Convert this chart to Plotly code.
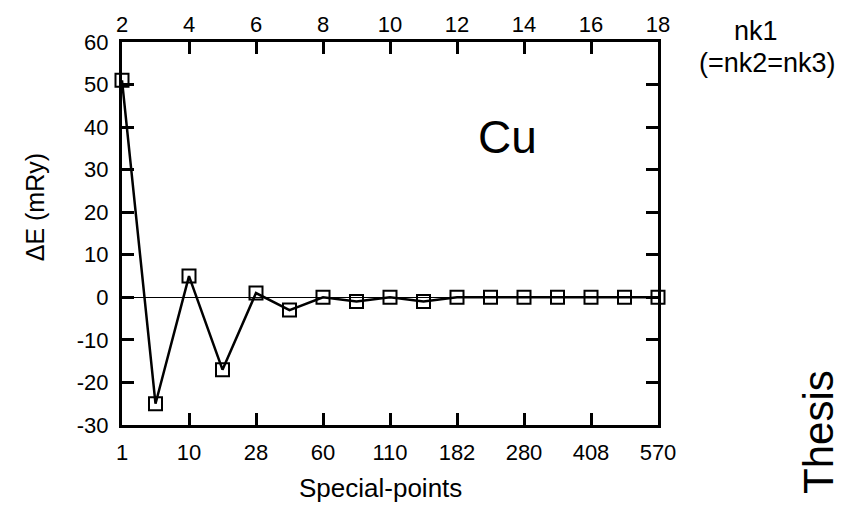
import plotly.graph_objects as go

nk = [2, 3, 4, 5, 6, 7, 8, 9, 10, 11, 12, 13, 14, 15, 16, 17, 18]
delta_e = [51, -25, 5, -17, 1, -3, 0, -1, 0, -1, 0, 0, 0, 0, 0, 0, 0]
top_ticks = [2, 4, 6, 8, 10, 12, 14, 16, 18]
special_points = ["1", "10", "28", "60", "110", "182", "280", "408", "570"]
y_ticks = [-30, -20, -10, 0, 10, 20, 30, 40, 50, 60]
y_labels = ["-30", "-20", "-10", "0", "10", "20", "30", "40", "50", "60"]

FONT = "Liberation Sans, Arial, Helvetica, sans-serif"
L, R, T, B = 122, 200, 38, 80
W, H = 858, 505
pw, ph = W - L - R, H - T - B

fig = go.Figure()
fig.add_trace(go.Scatter(
    x=nk, y=delta_e, mode="lines+markers",
    line=dict(color="black", width=2.5),
    marker=dict(symbol="square-open", size=13, color="black", line=dict(width=2, color="black")),
    cliponaxis=False, showlegend=False,
))
fig.add_trace(go.Scatter(x=[2, 18], y=[0, 0], xaxis="x2", mode="lines",
                         line=dict(width=0), hoverinfo="skip", showlegend=False))

axis_common = dict(showline=True, linecolor="black", linewidth=3, ticks="inside",
                   tickcolor="black", tickwidth=2.5, ticklen=12, showgrid=False,
                   tickfont=dict(family=FONT, size=22, color="black"))

def px(x, y):
    return (x - L) / pw, 1 - (y - T) / ph

ann = []
for text, x, y, size, angle in [
    ("Cu", 507, 134, 46, 0),
    ("nk1", 756, 27, 27, 0),
    ("(=nk2=nk3)", 767, 59, 27, 0),
    ("Thesis", 819, 432, 42, -90),
    ("Special-points", 380, 489, 26, 0),
    ("ΔE (mRy)", 35, 205, 25, -90),
]:
    ax, ay = px(x, y)
    ann.append(dict(text=text, x=ax, y=ay, xref="paper", yref="paper", showarrow=False,
                    xanchor="center", yanchor="middle", textangle=angle,
                    font=dict(family=FONT, size=size, color="black")))

fig.update_layout(
    width=W, height=H,
    margin=dict(l=L, r=R, t=T, b=B),
    paper_bgcolor="white", plot_bgcolor="white",
    font=dict(family=FONT, color="black"),
    xaxis=dict(range=[2, 18], tickmode="array", tickvals=top_ticks, ticktext=special_points,
               zeroline=False, ticklabelstandoff=6, **axis_common),
    xaxis2=dict(range=[2, 18], overlaying="x", side="top", tickmode="array",
                tickvals=top_ticks, ticktext=[str(v) for v in top_ticks],
                zeroline=False, ticklabelstandoff=-2, **axis_common),
    yaxis=dict(range=[-30, 60], tickmode="array", tickvals=y_ticks, ticktext=y_labels,
               mirror="ticks", zeroline=True, zerolinecolor="black", zerolinewidth=1,
               ticklabelstandoff=6, **axis_common),
    annotations=ann,
)
fig.write_html("out.html", config={"displayModeBar": False},
               post_script="document.body.style.margin='0';document.body.style.overflow='hidden';")
